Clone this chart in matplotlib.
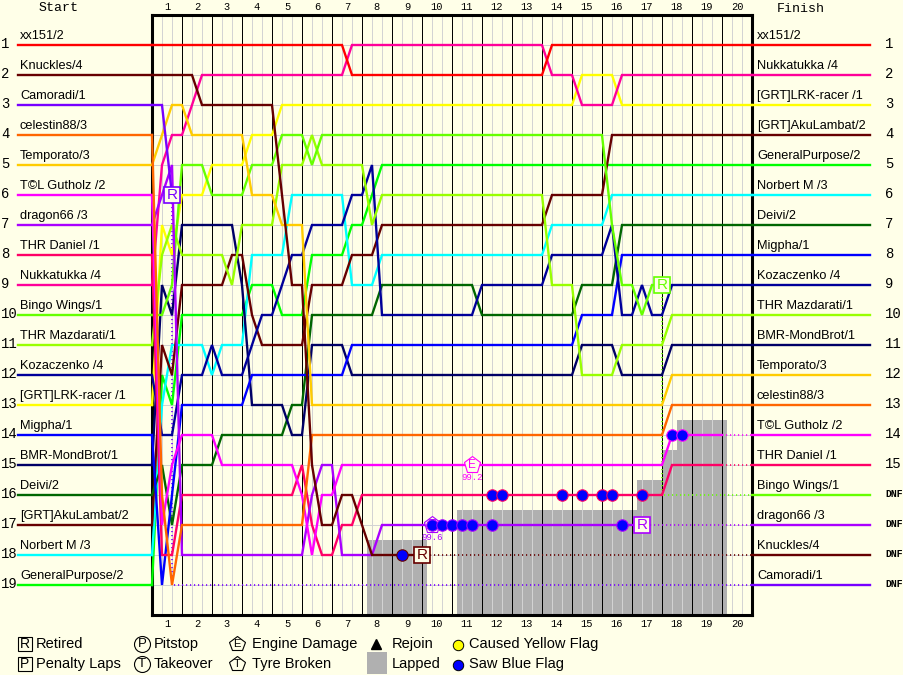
import matplotlib
matplotlib.use("Agg")
import matplotlib.pyplot as plt

plt.rcParams['font.family'] = ['Liberation Sans', 'DejaVu Sans']
BG = '#FFFFE8'
GRID = '#D3D3D3'
GRAY = '#B0B0B0'

start_names = ['xx151/2', 'Knuckles/4', 'Camoradi/1', 'celestin88/3', 'Temporato/3', 'T©L Gutholz /2',
               'dragon66 /3', 'THR Daniel /1', 'Nukkatukka /4', 'Bingo Wings/1', 'THR Mazdarati/1',
               'Kozaczenko /4', '[GRT]LRK-racer /1', 'Migpha/1', 'BMR-MondBrot/1', 'Deivi/2',
               '[GRT]AkuLambat/2', 'Norbert M /3', 'GeneralPurpose/2']
finish_names = ['xx151/2', 'Nukkatukka /4', '[GRT]LRK-racer /1', '[GRT]AkuLambat/2', 'GeneralPurpose/2',
                'Norbert M /3', 'Deivi/2', 'Migpha/1', 'Kozaczenko /4', 'THR Mazdarati/1', 'BMR-MondBrot/1',
                'Temporato/3', 'celestin88/3', 'T©L Gutholz /2', 'THR Daniel /1', 'Bingo Wings/1',
                'dragon66 /3', 'Knuckles/4', 'Camoradi/1']
finish_marks = [str(i) for i in range(1, 16)] + ['DNF'] * 4

# colours, in starting order
colors = ['#FF0000', '#660000', '#7700FF', '#FF6600', '#FFCC00', '#FF00FF', '#AA00FF', '#FF0066', '#FF0099',
          '#66FF00', '#99FF00', '#000099', '#FFFF00', '#0000FF', '#000066', '#006600', '#660000', '#00FFFF',
          '#00FF00']

# (third-of-a-lap node, race position) vertices for each driver, in starting order
t_xx151 = [(0, 1), (19, 1), (20, 2), (39, 2), (40, 1), (60, 1)]
t_knuckles = [(0, 2), (4, 2), (5, 3), (12, 3), (13, 6), (14, 9), (15, 9), (16, 15), (17, 17), (18, 17), (19, 16),
              (20, 16), (21, 17), (22, 18), (27, 18)]
t_camoradi = [(0, 3), (1, 3), (2, 6)]
t_celestin = [(0, 4), (1, 16), (2, 19), (3, 17), (15, 17), (16, 14), (51, 14), (52, 13), (60, 13)]
t_temporato = [(0, 5), (1, 4), (2, 3), (3, 3), (4, 4), (9, 4), (10, 6), (12, 6), (13, 7), (15, 7), (16, 13),
               (51, 13), (52, 12), (60, 12)]
t_tol = [(0, 6), (1, 17), (2, 15), (3, 14), (6, 14), (7, 15), (14, 15), (15, 16), (16, 18), (17, 16), (18, 16),
         (19, 15), (51, 15), (52, 14), (57, 14)]
t_dragon = [(0, 7), (1, 6), (2, 5), (3, 18), (15, 18), (16, 16), (17, 15), (18, 15), (19, 18), (22, 18), (23, 17),
            (49, 17)]
t_daniel = [(0, 8), (1, 18), (2, 18), (3, 16), (14, 16), (15, 15), (16, 17), (17, 18), (18, 18), (19, 17), (20, 17),
            (21, 16), (51, 16), (52, 15), (57, 15)]
t_nukka = [(0, 9), (1, 5), (2, 4), (3, 4), (5, 2), (19, 2), (20, 1), (39, 1), (40, 2), (42, 2), (43, 3), (46, 3),
           (47, 2), (60, 2)]
t_bingo = [(0, 10), (1, 10), (2, 9), (3, 5), (5, 5), (6, 6), (9, 6), (10, 5), (12, 5), (13, 4), (15, 4), (16, 5),
           (17, 4), (45, 4), (46, 7), (47, 9), (48, 9), (49, 10), (50, 9), (51, 9)]
t_mazdarati = [(0, 11), (1, 8), (2, 7), (3, 8), (7, 8), (8, 9), (9, 7), (12, 7), (13, 5), (15, 5), (16, 4), (17, 5),
               (21, 5), (22, 7), (23, 6), (39, 6), (40, 9), (42, 9), (43, 12), (46, 12), (47, 11), (51, 11),
               (52, 10), (60, 10)]
t_kozaczenko = [(0, 12), (1, 14), (2, 14), (3, 12), (5, 12), (6, 11), (7, 12), (9, 12), (11, 10), (12, 10), (13, 9),
                (14, 8), (15, 8), (16, 7), (19, 7), (20, 6), (21, 6), (22, 5), (23, 10), (32, 10), (33, 9), (39, 9),
                (40, 8), (45, 8), (46, 7), (47, 10), (48, 10), (49, 9), (50, 10), (51, 10), (52, 9), (60, 9)]
t_lrk = [(0, 13), (1, 7), (2, 8), (3, 6), (5, 6), (6, 5), (9, 5), (10, 4), (12, 4), (13, 3), (42, 3), (43, 2),
         (46, 2), (47, 3), (60, 3)]
t_migpha = [(0, 14), (1, 19), (2, 16), (3, 13), (9, 13), (10, 12), (19, 12), (20, 11), (42, 11), (43, 10), (46, 10),
            (47, 8), (60, 8)]
t_bmr = [(0, 15), (1, 9), (2, 10), (3, 7), (8, 7), (9, 9), (10, 13), (13, 13), (14, 14), (15, 14), (16, 11),
         (19, 11), (20, 12), (42, 12), (43, 11), (46, 11), (47, 12), (51, 12), (52, 11), (60, 11)]
t_deivi = [(0, 16), (1, 15), (2, 17), (3, 15), (6, 15), (7, 14), (13, 14), (14, 13), (15, 13), (16, 10), (22, 10),
           (23, 9), (32, 9), (33, 10), (42, 10), (43, 9), (46, 9), (47, 7), (60, 7)]
t_aku = [(0, 17), (1, 11), (2, 12), (3, 9), (7, 9), (8, 8), (9, 8), (10, 10), (11, 11), (15, 11), (16, 9), (19, 9),
         (20, 8), (22, 8), (23, 7), (39, 7), (40, 6), (45, 6), (46, 4), (60, 4)]
t_norbert = [(0, 18), (1, 13), (2, 11), (5, 11), (6, 12), (7, 11), (9, 11), (10, 8), (13, 8), (14, 6), (19, 6),
             (20, 9), (22, 9), (23, 8), (39, 8), (40, 7), (45, 7), (46, 6), (60, 6)]
t_general = [(0, 19), (1, 12), (2, 13), (3, 10), (9, 10), (10, 9), (12, 9), (13, 10), (15, 10), (16, 8), (19, 8),
             (20, 7), (21, 7), (22, 6), (23, 5), (60, 5)]
traces = [t_xx151, t_knuckles, t_camoradi, t_celestin, t_temporato, t_tol, t_dragon, t_daniel, t_nukka, t_bingo,
          t_mazdarati, t_kozaczenko, t_lrk, t_migpha, t_bmr, t_deivi, t_aku, t_norbert, t_general]

# dotted continuations: (driver index, vertices)
d_camoradi = [(2, 6), (2, 19), (60, 19)]
d_bingo = [(51, 9), (51, 16), (60, 16)]
d_dragon = [(49, 17), (60, 17)]
d_knuckles = [(27, 18), (60, 18)]
d_tol = [(57, 14), (60, 14)]
d_daniel = [(57, 15), (60, 15)]
dotted = [(2, d_camoradi), (9, d_bingo), (6, d_dragon), (1, d_knuckles), (5, d_tol), (7, d_daniel)]

# blue flags (driver index, node, position)
flags_daniel = [34, 35, 41, 43, 45, 46, 49]
flags_dragon = [28, 29, 30, 31, 32, 34, 47]
flags_knuckles = [25]
flags_tol = [52, 53]
flag_sets = [(7, flags_daniel, 16), (6, flags_dragon, 17), (1, flags_knuckles, 18), (5, flags_tol, 14)]

# retirements (driver index, node, position)
retired = [(2, 2, 6), (1, 27, 18), (6, 49, 17), (9, 51, 9)]
# damage markers (driver index, node, position, letter, percent)
damage = [(5, 32, 15, 'E', '99.2'), (6, 28, 17, 'T', '99.6')]

# lapped area: (first node edge, last node edge, upper row edge)
lap_left = [21.5, 30.5, 48.5, 51.0, 52.5]
lap_right = [27.5, 48.5, 51.0, 52.5, 57.5]
lap_top = [17.5, 16.5, 15.5, 14.5, 13.5]

W, H = 904, 675
fig = plt.figure(figsize=(W / 100, H / 100), dpi=100, facecolor=BG)
ax = fig.add_axes([152 / W, 1 - 615 / H, 600 / W, 600 / H], facecolor=BG)
ax.set_xlim(0, 20)
ax.set_ylim(20, 0)
ax.set_xticks([])
ax.set_yticks([])
for s in ax.spines.values():
    s.set_linewidth(2.2)
    s.set_color('black')
    s.set_zorder(2.5)

ov = fig.add_axes([0, 0, 1, 1], facecolor='none', zorder=5)
ov.set_xlim(0, W)
ov.set_ylim(H, 0)
ov.axis('off')

# grid
for r in range(1, 20):
    ax.plot([0, 20], [r, r], color=GRID, lw=0.72, zorder=0.5, antialiased=False)
for left, right, top in zip(lap_left, lap_right, lap_top):
    ax.bar(left / 3, 20 - top, width=(right - left) / 3, bottom=top, align='edge', color=GRAY, lw=0, zorder=1)
for n in range(1, 60):
    if n % 3 == 0:
        ax.axvline(n / 3, color='black', lw=0.72, zorder=1.6, antialiased=False)
    else:
        ax.axvline(n / 3, color=GRID, lw=0.72, zorder=1.5, antialiased=False)

# driver lines (first starters on top)
LINE = 1.7
LEFT_LEAD, RIGHT_LEAD = -134 / 30, 718 / 30
for i in range(18, -1, -1):
    tr = traces[i]
    xs = [p[0] / 3 for p in tr]
    ys = [p[1] for p in tr]
    ax.plot(xs, ys, color=colors[i], lw=LINE, zorder=3 + (18 - i) * 0.01,
            solid_joinstyle='miter', clip_on=False)
    ax.plot([LEFT_LEAD, 0], [i + 1, i + 1], color=colors[i], lw=LINE, zorder=3, clip_on=False)

for i, v in dotted:
    ax.plot([p[0] / 3 for p in v], [p[1] for p in v], color=colors[i], lw=1.2, ls=(0, (0.7, 1.7)),
            zorder=2.8)

finish_colors = [colors[start_names.index(n)] for n in finish_names]
finish_colors[3] = colors[16]
for r, c in enumerate(finish_colors):
    ax.plot([20, RIGHT_LEAD], [r + 1, r + 1], color=c, lw=LINE, zorder=3, clip_on=False)

# damage markers
for i, n, r, letter, pct in damage:
    ax.plot(n / 3, r, marker='p', ms=12.5, mfc=BG, mec=colors[i], mew=0.8, zorder=4, ls='none')
    ax.text(n / 3, r, letter, color=colors[i], ha='center', va='center', fontsize=8.5, zorder=4.1)
    ov.text(152 + n * 10, 15 + 30 * r + 13, pct, color=colors[i], ha='center', va='center', fontsize=6.5,
            family='Liberation Mono')

# flags
for i, nodes, r in flag_sets:
    ax.plot([n / 3 for n in nodes], [r] * len(nodes), ls='none', marker='o', ms=8.2, mfc='#0000FF',
            mec=colors[i], mew=0.8, zorder=4.5)

# retirements
for i, n, r in retired:
    ax.plot(n / 3, r, marker='s', ms=11.5, mfc=BG, mec=colors[i], mew=1.2, zorder=5, ls='none', clip_on=False)
    ax.text(n / 3, r, 'R', color=colors[i], ha='center', va='center', fontsize=11, zorder=5.1)

# texts
MONO = 'Liberation Mono'
ov.text(59, 8, 'Start', ha='center', va='center', family=MONO, fontsize=9.5)
ov.text(801, 9, 'Finish', ha='center', va='center', family=MONO, fontsize=9.5)
for k in range(1, 21):
    x = 152 + 30 * k - 15
    ov.text(x, 7, str(k), ha='center', va='center', family=MONO, fontsize=7.5)
    ov.text(x, 624, str(k), ha='center', va='center', family=MONO, fontsize=7.5)
for r in range(1, 20):
    y = 15 + 30 * r
    ov.text(1, y - 1, str(r), ha='left', va='center', family=MONO, fontsize=10)
    ov.text(20, y - 9, start_names[r - 1], ha='left', va='center', fontsize=9.2)
    ov.text(757, y - 9, finish_names[r - 1], ha='left', va='center', fontsize=9.2)
    m = finish_marks[r - 1]
    if m == 'DNF':
        ov.text(885, y - 1, m, ha='left', va='center', family=MONO, fontsize=7, fontweight='bold')
    else:
        ov.text(885, y - 1, m, ha='left', va='center', family=MONO, fontsize=10)

# legend
LEG = 10.5
for y, letter, lab in [(644, 'R', 'Retired'), (664, 'P', 'Penalty Laps')]:
    ov.plot(25, y, marker='s', ms=10.5, mfc=BG, mec='black', mew=0.8, ls='none')
    ov.text(25, y, letter, ha='center', va='center', fontsize=10)
    ov.text(36, y, lab, ha='left', va='center', fontsize=LEG)
for y, letter, lab in [(644, 'P', 'Pitstop'), (664, 'T', 'Takeover')]:
    ov.plot(142, y, marker='o', ms=11.5, mfc=BG, mec='black', mew=0.8, ls='none')
    ov.text(142, y, letter, ha='center', va='center', fontsize=9.5)
    ov.text(154, y, lab, ha='left', va='center', fontsize=LEG)
for y, letter, lab in [(644, 'E', 'Engine Damage'), (664, 'T', 'Tyre Broken')]:
    ov.plot(237, y, marker='p', ms=11.5, mfc=BG, mec='black', mew=0.8, ls='none')
    ov.text(237, y, letter, ha='center', va='center', fontsize=8)
    ov.text(252, y, lab, ha='left', va='center', fontsize=LEG)
ov.plot(376, 644, marker='^', ms=7, color='black', ls='none')
ov.text(392, 644, 'Rejoin', ha='left', va='center', fontsize=LEG)
ov.bar(367, 22, width=20, bottom=652, align='edge', color=GRAY, lw=0)
ov.text(392, 664, 'Lapped', ha='left', va='center', fontsize=LEG)
ov.plot(458, 645, marker='o', ms=7.5, mfc='#FFFF00', mec='black', mew=0.7, ls='none')
ov.text(469, 644, 'Caused Yellow Flag', ha='left', va='center', fontsize=LEG)
ov.plot(458, 665, marker='o', ms=7.5, mfc='#0000FF', mec='black', mew=0.7, ls='none')
ov.text(469, 664, 'Saw Blue Flag', ha='left', va='center', fontsize=LEG)
ov.set_xlim(0, W)
ov.set_ylim(H, 0)

fig.savefig('out.png', dpi=100, facecolor=BG)
